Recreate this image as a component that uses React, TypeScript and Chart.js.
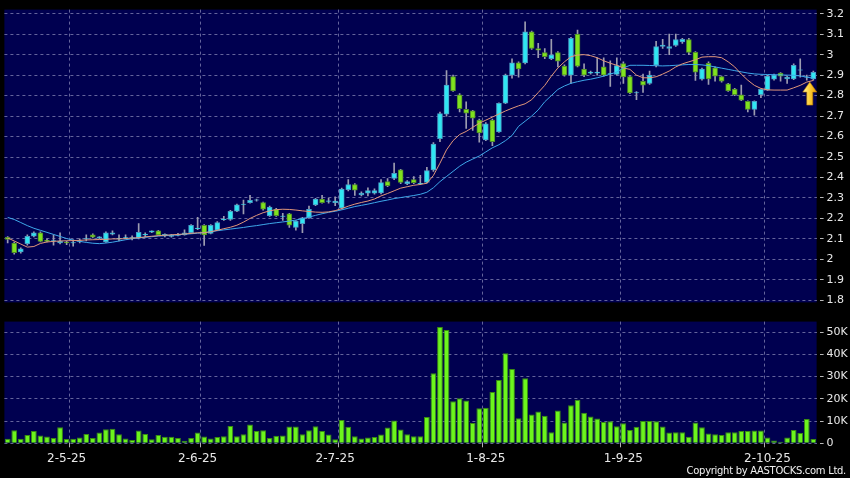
import React, { useEffect, useRef } from "react";
import { Chart, registerables } from "chart.js";
Chart.register(...registerables);

// ---------- data ----------
const tickLabels = ["2-5-25", "2-6-25", "2-7-25", "1-8-25", "1-9-25", "2-10-25"];
const labelIdx = [9, 29, 50, 73, 94, 116];
const gridIdx = [10, 30, 51, 73, 94, 116];

const open = [
  2.108, 2.08, 2.036, 2.077, 2.113, 2.13, 2.093, 2.09, 2.08, 2.083,
  2.08, 2.088, 2.1, 2.12, 2.104, 2.085, 2.123, 2.1, 2.105, 2.104,
  2.104, 2.12, 2.133, 2.14, 2.115, 2.112, 2.117, 2.12, 2.13, 2.15,
  2.167, 2.127, 2.143, 2.194, 2.195, 2.235, 2.268, 2.277, 2.289, 2.277,
  2.214, 2.245, 2.21, 2.222, 2.156, 2.175, 2.203, 2.266, 2.295, 2.283,
  2.277, 2.25, 2.34, 2.366, 2.315, 2.324, 2.324, 2.325, 2.38, 2.395,
  2.437, 2.37, 2.39, 2.37, 2.376, 2.437, 2.59, 2.709, 2.893, 2.804,
  2.733, 2.725, 2.681, 2.584, 2.681, 2.623, 2.763, 2.9, 2.96, 2.96,
  3.112, 3.03, 3.01, 2.98, 3.01, 2.944, 2.9, 3.1, 2.93, 2.91,
  2.91, 2.94, 2.906, 2.904, 2.956, 2.893, 2.813, 2.87, 2.86, 2.948,
  3.04, 3.03, 3.045, 3.062, 3.074, 3.011, 2.88, 2.958, 2.936, 2.893,
  2.858, 2.832, 2.804, 2.772, 2.733, 2.804, 2.827, 2.88, 2.91, 2.882,
  2.882, 2.924, 2.89, 2.882,
];
const close = [
  2.098, 2.033, 2.052, 2.113, 2.13, 2.088, 2.088, 2.092, 2.09, 2.08,
  2.082, 2.09, 2.102, 2.108, 2.11, 2.13, 2.13, 2.103, 2.107, 2.106,
  2.132, 2.122, 2.139, 2.12, 2.122, 2.118, 2.123, 2.13, 2.167, 2.153,
  2.12, 2.167, 2.18, 2.197, 2.235, 2.266, 2.27, 2.288, 2.291, 2.245,
  2.256, 2.214, 2.212, 2.167, 2.187, 2.203, 2.245, 2.295, 2.277, 2.286,
  2.285, 2.344, 2.366, 2.338, 2.324, 2.336, 2.336, 2.375, 2.36, 2.42,
  2.376, 2.38, 2.375, 2.372, 2.434, 2.563, 2.712, 2.851, 2.823, 2.736,
  2.714, 2.69, 2.618, 2.662, 2.575, 2.762, 2.9, 2.96, 2.93, 3.112,
  3.03, 3.022, 2.99, 2.999, 2.968, 2.9, 3.08, 2.944, 2.9, 2.915,
  2.915, 2.9, 2.908, 2.947, 2.891, 2.813, 2.815, 2.851, 2.9, 3.04,
  3.047, 3.04, 3.074, 3.075, 3.011, 2.914, 2.929, 2.882, 2.895, 2.87,
  2.823, 2.804, 2.778, 2.733, 2.772, 2.83, 2.895, 2.9, 2.895, 2.89,
  2.948, 2.926, 2.892, 2.914,
];
const high = [
  2.112, 2.085, 2.056, 2.12, 2.135, 2.135, 2.1, 2.12, 2.13, 2.09,
  2.095, 2.1, 2.12, 2.125, 2.112, 2.135, 2.14, 2.12, 2.12, 2.115,
  2.175, 2.13, 2.14, 2.142, 2.125, 2.122, 2.127, 2.145, 2.17, 2.205,
  2.17, 2.17, 2.185, 2.21, 2.24, 2.27, 2.29, 2.313, 2.295, 2.28,
  2.26, 2.25, 2.225, 2.225, 2.19, 2.205, 2.26, 2.298, 2.313, 2.3,
  2.305, 2.348, 2.39, 2.37, 2.33, 2.35, 2.345, 2.39, 2.395, 2.47,
  2.44, 2.385, 2.405, 2.41, 2.45, 2.57, 2.72, 2.922, 2.9, 2.81,
  2.77, 2.728, 2.685, 2.668, 2.685, 2.765, 2.905, 2.98, 2.965, 3.16,
  3.115, 3.055, 3.03, 3.075, 3.015, 2.95, 3.085, 3.12, 2.955, 2.92,
  2.985, 2.985, 2.97, 2.985, 2.965, 2.897, 2.82, 2.905, 2.92, 3.065,
  3.075, 3.1, 3.1, 3.08, 3.08, 3.015, 2.935, 2.965, 2.94, 2.895,
  2.86, 2.835, 2.851, 2.775, 2.775, 2.832, 2.9, 2.905, 2.912, 2.895,
  2.955, 2.98, 2.9, 2.92,
];
const low = [
  2.08, 2.025, 2.03, 2.07, 2.11, 2.085, 2.085, 2.07, 2.075, 2.072,
  2.065, 2.08, 2.09, 2.105, 2.1, 2.083, 2.12, 2.09, 2.1, 2.095,
  2.1, 2.11, 2.13, 2.117, 2.11, 2.108, 2.115, 2.118, 2.128, 2.145,
  2.068, 2.125, 2.14, 2.19, 2.19, 2.233, 2.222, 2.275, 2.285, 2.24,
  2.21, 2.21, 2.19, 2.156, 2.143, 2.13, 2.2, 2.262, 2.275, 2.275,
  2.262, 2.245, 2.335, 2.313, 2.31, 2.31, 2.318, 2.32, 2.355, 2.39,
  2.37, 2.365, 2.37, 2.365, 2.372, 2.43, 2.575, 2.7, 2.82, 2.72,
  2.64, 2.63, 2.572, 2.58, 2.555, 2.62, 2.76, 2.885, 2.89, 2.955,
  3.025, 2.985, 2.98, 2.975, 2.94, 2.895, 2.86, 2.94, 2.893, 2.905,
  2.9, 2.895, 2.845, 2.9, 2.86, 2.81, 2.78, 2.815, 2.855, 2.94,
  3.03, 3.0, 3.04, 3.055, 3.0, 2.874, 2.875, 2.855, 2.87, 2.865,
  2.82, 2.8, 2.775, 2.72, 2.705, 2.79, 2.825, 2.875, 2.87, 2.86,
  2.878, 2.89, 2.875, 2.875,
];
const volumeK = [
  2.0, 5.9, 2.0, 3.7, 5.5, 3.5, 3.1, 2.4, 7.2, 1.9,
  2.0, 2.6, 4.2, 2.4, 4.9, 6.3, 6.5, 4.1, 2.2, 1.5,
  5.8, 4.2, 1.8, 3.7, 2.9, 2.9, 2.4, 1.2, 2.4, 4.9,
  3.1, 2.2, 2.8, 3.2, 7.8, 3.2, 4.1, 8.4, 5.5, 5.9,
  2.4, 3.4, 3.5, 7.5, 7.5, 4.1, 5.9, 7.7, 5.5, 4.0,
  1.8, 10.5, 7.4, 3.2, 2.2, 2.6, 2.8, 4.0, 7.1, 10.2,
  6.2, 4.1, 3.2, 3.2, 11.8, 31.5, 52.3, 50.9, 18.9, 20.3,
  19.2, 9.1, 15.7, 16.0, 23.1, 28.4, 40.5, 33.4, 11.3, 29.2,
  13.0, 14.3, 12.4, 5.0, 14.7, 9.4, 17.1, 19.6, 13.7, 12.1,
  11.2, 9.6, 9.9, 7.7, 9.0, 6.0, 7.4, 10.0, 10.0, 9.9,
  7.5, 4.9, 5.0, 5.0, 2.9, 9.4, 7.2, 4.4, 4.1, 3.7,
  5.0, 5.0, 5.5, 5.5, 5.8, 5.8, 2.6, 1.3, 0.7, 2.6,
  6.0, 4.6, 10.9, 1.9,
];
const maShort = [
  2.105, 2.09, 2.075, 2.06, 2.063, 2.078, 2.085, 2.088, 2.09, 2.091,
  2.092, 2.093, 2.095, 2.096, 2.097, 2.098, 2.1, 2.1, 2.102, 2.104,
  2.106, 2.11, 2.113, 2.116, 2.118, 2.12, 2.122, 2.124, 2.127, 2.13,
  2.13, 2.135, 2.142, 2.15, 2.157, 2.167, 2.182, 2.2, 2.215, 2.228,
  2.237, 2.243, 2.245, 2.244, 2.241, 2.237, 2.234, 2.231, 2.23, 2.232,
  2.238, 2.248, 2.26, 2.27, 2.278, 2.285, 2.295, 2.31, 2.322, 2.335,
  2.348, 2.355, 2.362, 2.366, 2.372, 2.41, 2.47, 2.535, 2.58, 2.61,
  2.625, 2.645, 2.665, 2.68, 2.695, 2.71, 2.725, 2.738, 2.75, 2.76,
  2.78, 2.815, 2.85, 2.895, 2.935, 2.965, 2.99, 2.998, 3.0, 2.995,
  2.985, 2.97, 2.958, 2.948, 2.935, 2.928, 2.9, 2.887, 2.887, 2.892,
  2.905, 2.92, 2.94, 2.955, 2.965, 2.975, 2.988, 2.99, 2.99, 2.985,
  2.965, 2.94, 2.905, 2.875, 2.85, 2.835, 2.828, 2.827, 2.827, 2.827,
  2.838, 2.85, 2.866, 2.874,
];
const maLong = [
  2.205, 2.195, 2.18, 2.165, 2.152, 2.142, 2.132, 2.122, 2.112, 2.102,
  2.094, 2.088, 2.083, 2.079, 2.077, 2.08, 2.084, 2.09, 2.096, 2.101,
  2.105, 2.108, 2.111, 2.114, 2.116, 2.118, 2.12, 2.123, 2.125, 2.128,
  2.131, 2.135, 2.14, 2.144, 2.148, 2.152, 2.156, 2.161, 2.165, 2.17,
  2.175, 2.179, 2.183, 2.187, 2.192, 2.199, 2.207, 2.215, 2.223, 2.23,
  2.235, 2.242, 2.25, 2.258, 2.264, 2.27, 2.277, 2.284, 2.29, 2.297,
  2.302, 2.307, 2.312, 2.318, 2.328, 2.35, 2.38, 2.405, 2.43, 2.455,
  2.475, 2.49, 2.505, 2.525, 2.545, 2.56, 2.58, 2.605, 2.65, 2.675,
  2.7, 2.73, 2.77, 2.8, 2.83, 2.847, 2.86, 2.868, 2.875, 2.88,
  2.887, 2.895, 2.905, 2.915, 2.935, 2.948, 2.948, 2.948, 2.947, 2.946,
  2.945, 2.946, 2.948, 2.95, 2.952, 2.952, 2.95, 2.946, 2.94, 2.934,
  2.928, 2.922, 2.916, 2.91, 2.906, 2.904, 2.903, 2.902, 2.901, 2.9,
  2.899, 2.896, 2.89, 2.885,
];
const arrowIndex = 122;
const arrowPrice = 2.866;

// ---------- styling ----------
const NAVY = "#000050";
const GRID = "rgba(125,125,175,0.8)";
const TEXT = "#e8e8e8";
const FONT = "'DejaVu Sans', sans-serif";
const UP_FILL = "#30e6f2";
const UP_EDGE = "#4a9cc4";
const DN_FILL = "#80e21e";
const DN_EDGE = "#4e8a2a";
const WICK = "#9c9cb0";
const MA_SHORT = "#e2977a";
const MA_LONG = "#3ea8ea";
const VOL_FILL = "#6cf51c";
const VOL_EDGE = "#3a8c12";

const categories = close.map((_, i) => {
  const k = labelIdx.indexOf(i);
  return k >= 0 ? tickLabels[k] : "";
});

const panelBg = {
  id: "panelBg",
  beforeDraw(chart: any) {
    const { ctx, chartArea: a } = chart;
    ctx.save();
    ctx.fillStyle = NAVY;
    ctx.fillRect(a.left, a.top, a.right - a.left, a.bottom - a.top);
    ctx.restore();
  },
};

const arrowPlugin = {
  id: "arrowMark",
  afterDatasetsDraw(chart: any) {
    const { ctx, scales } = chart;
    const x = scales.x.getPixelForValue(arrowIndex) + 3;
    const y = scales.y.getPixelForValue(arrowPrice);
    const g = ctx.createLinearGradient(x - 7, 0, x + 7, 0);
    g.addColorStop(0, "#fff3a8");
    g.addColorStop(0.45, "#ffd23a");
    g.addColorStop(1, "#e39a00");
    ctx.save();
    ctx.beginPath();
    ctx.moveTo(x, y);
    ctx.lineTo(x + 7, y + 10);
    ctx.lineTo(x + 3, y + 10);
    ctx.lineTo(x + 3, y + 23);
    ctx.lineTo(x - 3, y + 23);
    ctx.lineTo(x - 3, y + 10);
    ctx.lineTo(x - 7, y + 10);
    ctx.closePath();
    ctx.fillStyle = g;
    ctx.fill();
    ctx.strokeStyle = "#b87a00";
    ctx.lineWidth = 0.6;
    ctx.stroke();
    ctx.restore();
  },
};

const xAxis = (showLabels: boolean) => ({
  type: "category",
  offset: true,
  grid: {
    offset: true,
    color: (c: any) => (gridIdx.includes(c.index) ? GRID : "rgba(0,0,0,0)"),
    lineWidth: 1,
    drawTicks: showLabels,
    tickLength: 4,
    tickColor: (c: any) => (gridIdx.includes(c.index) ? "#b0b0b0" : "rgba(0,0,0,0)"),
  },
  border: { display: false, dash: [3, 3] },
  ticks: {
    display: showLabels,
    autoSkip: false,
    maxRotation: 0,
    minRotation: 0,
    color: TEXT,
    font: { family: FONT, size: 12 },
    padding: 4,
  },
  afterFit: (s: any) => {
    s.height = showLabels ? 34.7 : 0;
  },
});

const yGrid = {
  color: GRID,
  lineWidth: 1,
  drawTicks: true,
  tickLength: 7,
  tickColor: "#b8b8b8",
  tickBorderDash: [0, 3, 4],
};

export default function App() {
  const priceRef = useRef<HTMLCanvasElement>(null);
  const volRef = useRef<HTMLCanvasElement>(null);

  useEffect(() => {
    Chart.defaults.font.family = FONT;
    const price = new Chart(priceRef.current as HTMLCanvasElement, {
      type: "bar",
      data: {
        labels: categories,
        datasets: [
          {
            type: "bar",
            data: low.map((l, i) => [l, high[i]]),
            backgroundColor: WICK,
            borderWidth: 0,
            barThickness: 1,
            grouped: false,
            order: 3,
          } as any,
          {
            type: "bar",
            data: open.map((o, i) => [o, close[i]]),
            backgroundColor: close.map((c, i) => (c >= open[i] ? UP_FILL : DN_FILL)),
            borderColor: close.map((c, i) => (c >= open[i] ? UP_EDGE : DN_EDGE)),
            borderWidth: 1,
            borderSkipped: false,
            barThickness: 5,
            grouped: false,
            order: 2,
          } as any,
          {
            type: "line",
            data: maShort,
            borderColor: MA_SHORT,
            borderWidth: 1,
            pointRadius: 0,
            tension: 0,
            order: 1,
          } as any,
          {
            type: "line",
            data: maLong,
            borderColor: MA_LONG,
            borderWidth: 1,
            pointRadius: 0,
            tension: 0,
            order: 1,
          } as any,
        ],
      },
      options: {
        responsive: false,
        devicePixelRatio: 1,
        animation: false,
        events: [],
        layout: { padding: { left: 4.4, right: 0, top: 5, bottom: 4 } },
        plugins: { legend: { display: false }, tooltip: { enabled: false } },
        scales: {
          x: xAxis(false) as any,
          y: {
            position: "right",
            min: 1.79,
            max: 3.22,
            grid: yGrid,
            border: { display: false, dash: [3, 3] },
            ticks: {
              stepSize: 0.1,
              includeBounds: false,
              color: TEXT,
              font: { family: FONT, size: 11 },
              padding: 3,
              callback: (v: any) => String(Math.round(Number(v) * 10) / 10),
            },
            afterFit: (s: any) => {
              s.width = 33.4;
            },
          } as any,
        },
      },
      plugins: [panelBg, arrowPlugin],
    });

    const vol = new Chart(volRef.current as HTMLCanvasElement, {
      type: "bar",
      data: {
        labels: categories,
        datasets: [
          {
            data: volumeK,
            backgroundColor: VOL_FILL,
            borderColor: VOL_EDGE,
            borderWidth: 1,
            borderSkipped: "start",
            barPercentage: 0.88,
            categoryPercentage: 1,
          } as any,
        ],
      },
      options: {
        responsive: false,
        devicePixelRatio: 1,
        animation: false,
        events: [],
        layout: { padding: { left: 4.4, right: 0, top: 7.3, bottom: 0 } },
        plugins: { legend: { display: false }, tooltip: { enabled: false } },
        scales: {
          x: xAxis(true) as any,
          y: {
            position: "right",
            min: 0,
            max: 54.7,
            grid: yGrid,
            border: { display: false, dash: [3, 3] },
            ticks: {
              stepSize: 10,
              includeBounds: false,
              color: TEXT,
              font: { family: FONT, size: 11 },
              padding: 3,
              callback: (v: any) => (Number(v) === 0 ? "0" : `${Math.round(Number(v))}K`),
            },
            afterFit: (s: any) => {
              s.width = 33.4;
            },
          } as any,
        },
      },
      plugins: [panelBg],
    });

    return () => {
      price.destroy();
      vol.destroy();
    };
  }, []);

  return (
    <div
      style={{
        position: "fixed",
        left: 0,
        top: 0,
        width: 850,
        height: 478,
        background: "#000",
        overflow: "hidden",
      }}
    >
      <canvas ref={priceRef} width={850} height={312} style={{ position: "absolute", left: 0, top: 0 }} />
      <canvas ref={volRef} width={850} height={166} style={{ position: "absolute", left: 0, top: 312 }} />
      <div
        style={{
          position: "absolute",
          right: 4,
          top: 465,
          fontFamily: FONT,
          fontSize: 10,
          lineHeight: "11px",
          letterSpacing: "-0.3px",
          color: "#f0f0f0",
          whiteSpace: "nowrap",
        }}
      >
        Copyright by AASTOCKS.com Ltd.
      </div>
    </div>
  );
}
